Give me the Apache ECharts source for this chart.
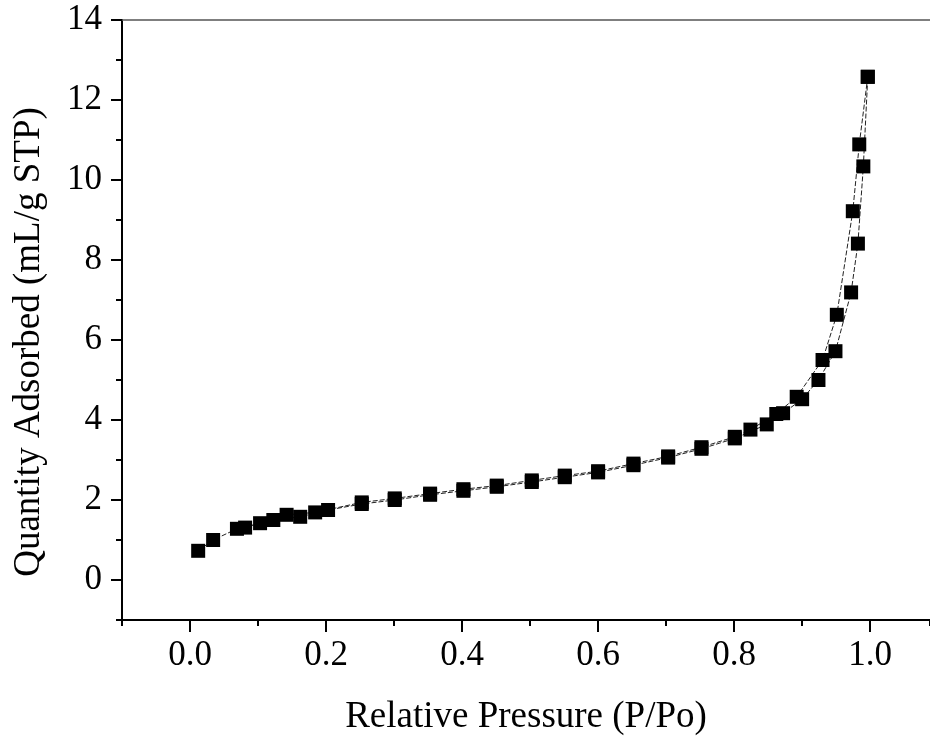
<!DOCTYPE html>
<html>
<head>
<meta charset="utf-8">
<script src="https://cdn.jsdelivr.net/npm/echarts@6/dist/echarts.min.js"></script>
<style>
  html, body { margin: 0; padding: 0; background: #fff; }
  #chart { width: 930px; height: 736px; }
</style>
</head>
<body>
<div id="chart"></div>
<script>
// adsorption branch (rising P/Po)
var adsX = [0.012, 0.034, 0.069, 0.103, 0.1225, 0.162, 0.203, 0.2525, 0.301, 0.353, 0.402, 0.451, 0.5025, 0.551, 0.600, 0.652, 0.703, 0.752, 0.801, 0.848, 0.872, 0.900, 0.924, 0.949, 0.972, 0.982, 0.990, 0.9965];
var adsY = [0.73, 1.00, 1.28, 1.42, 1.50, 1.58, 1.75, 1.90, 2.00, 2.13, 2.23, 2.33, 2.45, 2.57, 2.69, 2.87, 3.06, 3.28, 3.54, 3.89, 4.17, 4.52, 5.00, 5.72, 7.19, 8.41, 10.34, 12.58];
// desorption branch (falling P/Po)
var desX = [0.9965, 0.984, 0.9745, 0.951, 0.930, 0.892, 0.862, 0.824, 0.801, 0.752, 0.703, 0.652, 0.600, 0.551, 0.5025, 0.451, 0.402, 0.353, 0.301, 0.2525, 0.184, 0.142, 0.081];
var desY = [12.58, 10.89, 9.22, 6.63, 5.50, 4.58, 4.15, 3.76, 3.58, 3.32, 3.09, 2.91, 2.72, 2.61, 2.49, 2.36, 2.27, 2.16, 2.04, 1.94, 1.69, 1.63, 1.31];

var xMajor = [0, 0.2, 0.4, 0.6, 0.8, 1.0];
var yMajor = [0, 2, 4, 6, 8, 10, 12, 14];

function pairs(xs, ys) {
  return xs.map(function (x, i) { return [x, ys[i]]; });
}

var font = 'Liberation Serif';
var XMIN = -0.1, XMAX = 1.088;   // right end of the frame falls just past the picture
var myChart = echarts.init(document.getElementById('chart'));

var option = {
  animation: false,
  backgroundColor: '#fff',
  grid: { left: 122, top: 20, right: 0, bottom: 116, containLabel: false, outerBoundsMode: 'none' },
  xAxis: [
    {
      type: 'value', min: XMIN, max: XMAX, interval: 0.1,
      name: 'Relative Pressure (P/Po)',
      nameLocation: 'middle', nameGap: 79,
      nameTextStyle: { fontFamily: font, fontSize: 37, color: '#000' },
      axisLine: { onZero: false, lineStyle: { color: '#000', width: 2 } },
      axisTick: { inside: false, length: 6, lineStyle: { color: '#000', width: 2 } },
      axisLabel: { customValues: xMajor, margin: 18, fontFamily: font, fontSize: 35, color: '#000',
        formatter: function (v) { return v.toFixed(1); } },
      splitLine: { show: false }
    },
    {
      // major ticks
      type: 'value', min: XMIN, max: XMAX, position: 'bottom',
      axisLine: { show: true, onZero: false, lineStyle: { color: '#000', width: 2 } },
      axisTick: { show: true, inside: false, length: 12, lineStyle: { color: '#000', width: 2 }, customValues: xMajor },
      axisLabel: { show: false },
      splitLine: { show: false }
    },
    {
      // thin frame line on top
      type: 'value', min: XMIN, max: XMAX, position: 'top',
      axisLine: { show: true, onZero: false, lineStyle: { color: '#555', width: 1.5 } },
      axisTick: { show: false },
      axisLabel: { show: false },
      splitLine: { show: false }
    }
  ],
  yAxis: [
    {
      type: 'value', min: -1, max: 14, interval: 1,
      name: 'Quantity Adsorbed (mL/g STP)',
      nameLocation: 'middle', nameGap: 74,
      nameTextStyle: { fontFamily: font, fontSize: 37, color: '#000', padding: [0, 44, 0, 0] },
      axisLine: { onZero: false, lineStyle: { color: '#000', width: 2 } },
      axisTick: { inside: false, length: 6, lineStyle: { color: '#000', width: 2 } },
      axisLabel: { customValues: yMajor, margin: 20, fontFamily: font, fontSize: 35, color: '#000' },
      splitLine: { show: false }
    },
    {
      // major ticks
      type: 'value', min: -1, max: 14, position: 'left',
      axisLine: { show: true, onZero: false, lineStyle: { color: '#000', width: 2 } },
      axisTick: { show: true, inside: false, length: 11, lineStyle: { color: '#000', width: 2 }, customValues: yMajor },
      axisLabel: { show: false },
      splitLine: { show: false }
    }
  ],
  series: [
    {
      name: 'Adsorption', type: 'line',
      data: pairs(adsX, adsY),
      symbol: 'rect', symbolSize: 14,
      itemStyle: { color: '#000' },
      lineStyle: { color: '#222', width: 1, type: [5, 2] }
    },
    {
      name: 'Desorption', type: 'line',
      data: pairs(desX, desY),
      symbol: 'rect', symbolSize: 14,
      itemStyle: { color: '#000' },
      lineStyle: { color: '#222', width: 1, type: [5, 2] }
    }
  ]
};

myChart.setOption(option);
</script>
</body>
</html>
